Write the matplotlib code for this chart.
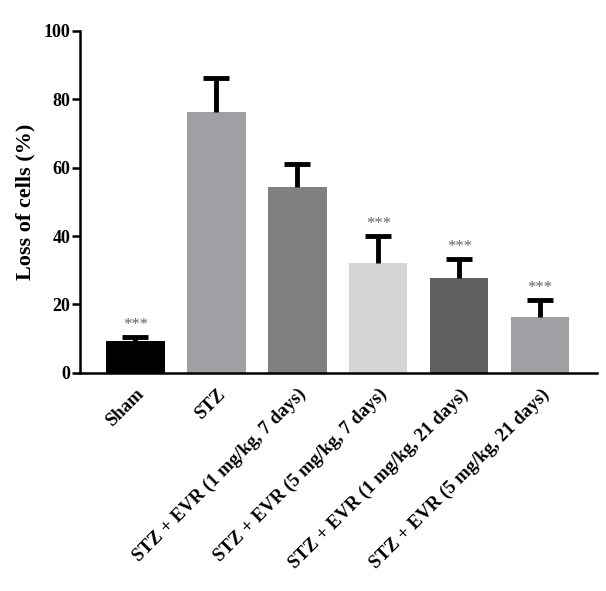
import matplotlib.pyplot as plt
import numpy as np

groups = ["Sham", "STZ",
          "STZ + EVR (1 mg/kg, 7 days)", "STZ + EVR (5 mg/kg, 7 days)",
          "STZ + EVR (1 mg/kg, 21 days)", "STZ + EVR (5 mg/kg, 21 days)"]
loss = [9.4, 76.3, 54.2, 32.1, 27.7, 16.2]
sem = [1.0, 9.9, 6.8, 7.8, 5.5, 5.1]
signif = ["***", "", "", "***", "***", "***"]
colors = ["#000000", "#a0a0a4", "#808080", "#d4d4d4", "#606060", "#a0a0a4"]

plt.rcParams["font.family"] = ["Liberation Serif", "DejaVu Serif"]
plt.rcParams["font.weight"] = "bold"

fig = plt.figure(figsize=(6.06, 5.91), dpi=100)
ax = fig.add_axes([0.132, 0.369, 0.853, 0.579])

x = np.arange(len(groups))
top = np.array(loss) + np.array(sem)
ax.bar(x, loss, width=0.72, color=colors, zorder=2)
# upper-only error bars: stem plus cap
ax.vlines(x, loss, top, color="black", linewidth=3.5, zorder=3)
ax.hlines(top, x - 0.16, x + 0.16, color="black", linewidth=3.5, zorder=3)

for xi, yi, s in zip(x, top, signif):
    if s:
        ax.text(xi, yi + 1.2, s, ha="center", va="bottom", fontsize=12,
                color="#666666", fontweight="normal")

ax.set_xlim(-0.685, 5.7)
ax.set_ylim(0, 100)
ax.set_yticks([0, 20, 40, 60, 80, 100])
ax.set_xticks(x)
ax.set_xticklabels(groups, rotation=45, ha="right", rotation_mode="anchor",
                   fontsize=13.5, fontweight="bold")
ax.tick_params(axis="x", length=0, pad=9)
ax.tick_params(axis="y", length=6, width=1.8, labelsize=13, pad=1)
for lbl in ax.get_yticklabels():
    lbl.set_fontweight("bold")
ax.set_ylabel("Loss of cells (%)", fontsize=16, fontweight="bold", labelpad=6)

ax.spines["top"].set_visible(False)
ax.spines["right"].set_visible(False)
ax.spines["left"].set_linewidth(1.8)
ax.spines["bottom"].set_linewidth(1.8)

fig.savefig("out.png", dpi=100)
